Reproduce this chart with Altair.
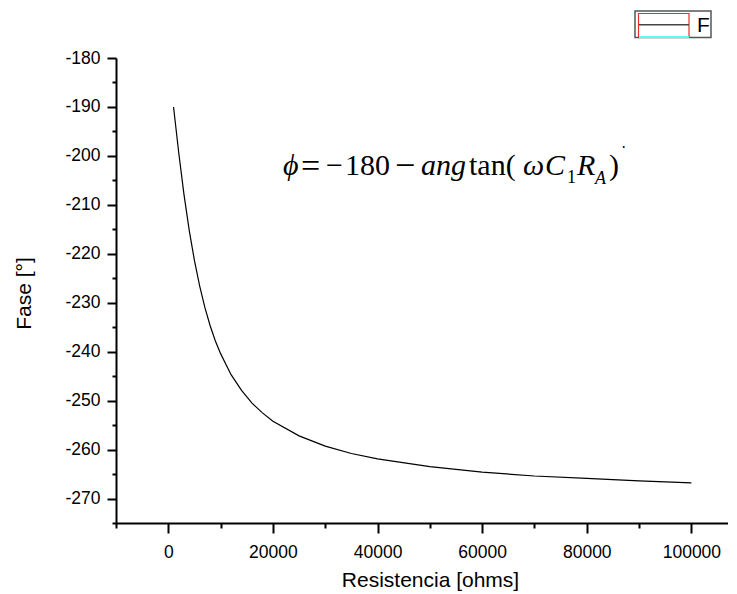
import altair as alt
import pandas as pd

# Data
resistance = [1000, 2000, 3000, 4000, 5000, 6000, 7000, 8000, 9000, 10000,
              12000, 14000, 16000, 18000, 20000, 25000, 30000, 35000, 40000,
              50000, 60000, 70000, 80000, 90000, 100000]
phase = [-190.0, -199.4, -207.9, -215.2, -221.4, -226.6, -231.0, -234.7, -237.8,
         -240.4, -244.7, -247.9, -250.5, -252.5, -254.2, -257.2, -259.3, -260.8,
         -261.9, -263.5, -264.6, -265.4, -265.9, -266.4, -266.8]

x_tick_values = [-10000, 0, 10000, 20000, 30000, 40000, 50000, 60000, 70000,
                 80000, 90000, 100000]
y_tick_values = [-275, -270, -265, -260, -255, -250, -245, -240, -235, -230,
                 -225, -220, -215, -210, -205, -200, -195, -190, -185, -180]

df = pd.DataFrame({"R": resistance, "phase": phase})

SANS = "Liberation Sans"
SERIF = "Liberation Serif"

x_axis = alt.Axis(
    values=x_tick_values,
    labelExpr="datum.value % 20000 === 0 ? '' + datum.value : ''",
    tickSize={"condition": {"test": "datum.value % 20000 === 0", "value": 10}, "value": 5},
    tickWidth=2, domainWidth=2, labelPadding=10,
    labelFont=SANS, labelFontSize=17.5,
    title="Resistencia [ohms]", titleFont=SANS, titleFontSize=21,
    titleFontWeight="normal", titleX=314, titleY=63,
    titleAlign="center", titleBaseline="alphabetic",
)
y_axis = alt.Axis(
    values=y_tick_values,
    labelExpr="datum.value % 10 === 0 ? '' + datum.value : ''",
    tickSize={"condition": {"test": "datum.value % 10 === 0", "value": 9}, "value": 4},
    tickWidth=2, domainWidth=2, labelPadding=7,
    labelFont=SANS, labelFontSize=17.5,
    title="Fase [°]", titleFont=SANS, titleFontSize=21,
    titleFontWeight="normal", titleX=-92, titleY=235,
    titleAlign="center", titleBaseline="middle", titleAngle=270,
)

line = alt.Chart(df).mark_line(color="black", strokeWidth=1.2).encode(
    x=alt.X("R:Q", scale=alt.Scale(domain=[-10000, 107000], nice=False, zero=False), axis=x_axis),
    y=alt.Y("phase:Q", scale=alt.Scale(domain=[-275, -180], nice=False, zero=False), axis=y_axis),
)

one = alt.Data(values=[{"k": 0}])
OX, OY = 116, 58  # plot origin in page pixels


def piece(text, px, py, size=30, italic=False, font=SERIF, color="black"):
    return alt.Chart(one).mark_text(
        text=text, font=font, fontSize=size, fontStyle="italic" if italic else "normal",
        align="left", baseline="alphabetic", color=color,
    ).encode(x=alt.value(px - OX), y=alt.value(py - OY))


base_y = 175
formula = [
    piece("ϕ", 283, base_y, italic=True),
    piece("=", 301, base_y + 2, size=34),
    piece("−", 326, base_y, size=30),
    piece("180", 345, base_y),
    piece("−", 395, base_y + 2, size=36),
    piece("ang", 421, base_y, italic=True),
    piece("tan(", 469, base_y),
    piece("ω", 523, base_y, italic=True),
    piece("C", 545, base_y, italic=True),
    piece("1", 567, base_y + 8, size=18),
    piece("R", 577, base_y, italic=True),
    piece("A", 595, base_y + 9, size=18, italic=True),
    piece(")", 609, base_y),
    piece("·", 621, 153, size=16),
]


def rect(x1, x2, y1, y2, stroke, fill="transparent", width=1.5):
    return alt.Chart(one).mark_rect(stroke=stroke, fill=fill, strokeWidth=width).encode(
        x=alt.value(x1 - OX), x2=alt.value(x2 - OX), y=alt.value(y1 - OY), y2=alt.value(y2 - OY)
    )


def hline(x1, x2, y, color, width):
    return alt.Chart(one).mark_rule(color=color, strokeWidth=width).encode(
        x=alt.value(x1 - OX), x2=alt.value(x2 - OX), y=alt.value(y - OY)
    )


legend = [
    rect(635, 711, 11, 37.5, "#555555", fill="white", width=1.5),
    rect(638.5, 689, 13.5, 36.5, "#e83030", width=1.2),
    hline(639, 689, 24.7, "#444444", 1.5),
    hline(639, 689, 37, "#55ffff", 2),
    piece("F", 697, 32, size=21, font=SANS),
]

chart = alt.layer(line, *formula, *legend).properties(
    width=612, height=465,
    autosize=alt.AutoSizeParams(type="none"),
    padding={"left": 108, "top": 50, "right": 0, "bottom": 72},
).configure_view(stroke=None).configure_axis(
    grid=False, domainColor="black", tickColor="black",
    labelColor="black", titleColor="black",
)

chart.save("out.html", embed_options={"renderer": "svg", "actions": False})
